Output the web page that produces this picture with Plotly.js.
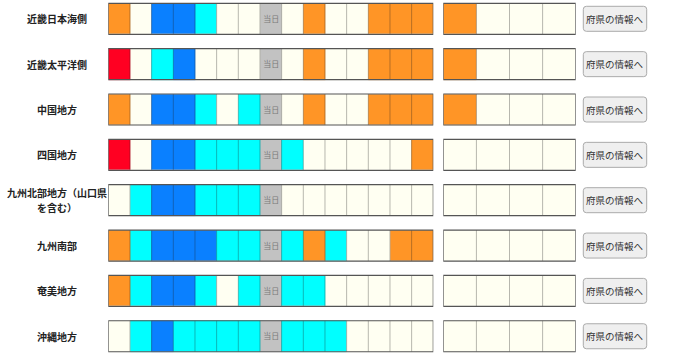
<!DOCTYPE html>
<html><head><meta charset="utf-8">
<script src="https://cdn.plot.ly/plotly-3.0.1.min.js"></script>
<style>html,body{margin:0;padding:0;background:#fff}#chart{width:680px;height:361px}</style>
</head><body><div id="chart"></div>
<script>
// Region names (rows)
const regions = ['近畿日本海側','近畿太平洋側','中国地方','四国地方','九州北部地方（山口県<br>を含む）','九州南部','奄美地方','沖縄地方'];
// Level codes: 0 none, 1 cyan, 2 blue, 3 orange, 4 red, 5 当日
const levelNames = ['なし','水色','青','橙','赤','当日'];
const levelColors = ['#FFFFF2','#00FFFF','#0A80FF','#FF9526','#FF0022','#C2C2C2'];
const todayLabel = '当日';
const buttonLabel = '府県の情報へ';
// Left strip: 15 cells per region
const leftLevels = [
  [3,0,2,2,1,0,0,5,0,3,0,0,3,3,3],
  [4,0,1,2,0,0,0,5,0,3,0,0,3,3,3],
  [3,0,2,2,1,0,1,5,0,3,0,0,3,3,3],
  [4,0,2,2,1,1,1,5,1,0,0,0,0,0,3],
  [0,1,2,2,1,1,1,5,0,0,0,0,0,0,0],
  [3,1,2,2,2,1,1,5,1,3,1,0,0,3,3],
  [3,1,2,2,1,0,1,5,1,1,0,0,0,0,0],
  [0,1,2,1,1,1,1,5,1,1,1,0,0,0,0]
];
// Right strip: 4 cells per region
const rightLevels = [
  [3,0,0,0],
  [3,0,0,0],
  [3,0,0,0],
  [0,0,0,0],
  [0,0,0,0],
  [0,0,0,0],
  [0,0,0,0],
  [0,0,0,0]
];

(function () {
const W = 680, H = 361;
const pitch = 45.35;
const firstCenter = 18.8;
const halfH = 15.5 / pitch;
const nL = leftLevels[0].length, nR = rightLevels[0].length;

const cs = [];
levelColors.forEach((c, i) => { cs.push([i / levelColors.length, c]); cs.push([(i + 1) / levelColors.length, c]); });

const rowIdx = regions.map((_, i) => i);
const leftText = leftLevels.map(r => r.map(v => v === 5 ? todayLabel : ''));

const common = {
  type: 'heatmap', colorscale: cs, zmin: -0.5, zmax: levelColors.length - 0.5,
  showscale: false, hoverinfo: 'skip', ygap: pitch - 31, xgap: 0, zsmooth: false
};
const traces = [
  Object.assign({}, common, {
    x: leftLevels[0].map((_, i) => i), y: rowIdx, z: leftLevels,
    text: leftText, texttemplate: '%{text}',
    textfont: {size: 8, color: '#7a7a7a', family: 'Noto Sans CJK JP'},
    xaxis: 'x', yaxis: 'y'
  }),
  Object.assign({}, common, {
    x: rightLevels[0].map((_, i) => i), y: rowIdx, z: rightLevels,
    xaxis: 'x2', yaxis: 'y'
  })
];

const shapes = [];
const annotations = [];
const innerLine = {color: 'rgba(30,30,30,0.32)', width: 1};
const outerLine = {color: '#555555', width: 1.2};
const labelFont = {size: 10, color: '#222', family: 'Noto Sans CJK JP', weight: 'bold'};
rowIdx.forEach(r => {
  [['x', nL], ['x2', nR]].forEach(([ax, n]) => {
    for (let k = 1; k < n; k++) {
      shapes.push({type: 'line', xref: ax, yref: 'y', x0: k - 0.5, x1: k - 0.5, y0: r - halfH, y1: r + halfH, line: innerLine, layer: 'above'});
    }
    shapes.push({type: 'rect', xref: ax, yref: 'y', x0: -0.5, x1: n - 0.5, y0: r - halfH, y1: r + halfH, line: outerLine, fillcolor: 'rgba(0,0,0,0)', layer: 'above'});
  });
  // button
  const bx0 = 583.3 / W, bx1 = 646.7 / W, bh = 12.5 / pitch, rx = 3 / W, ry = 3 / pitch;
  const y0 = r - bh, y1 = r + bh;
  const p = `M ${bx0 + rx} ${y0} L ${bx1 - rx} ${y0} Q ${bx1} ${y0} ${bx1} ${y0 + ry} L ${bx1} ${y1 - ry} Q ${bx1} ${y1} ${bx1 - rx} ${y1} L ${bx0 + rx} ${y1} Q ${bx0} ${y1} ${bx0} ${y1 - ry} L ${bx0} ${y0 + ry} Q ${bx0} ${y0} ${bx0 + rx} ${y0} Z`;
  shapes.push({type: 'path', xref: 'paper', yref: 'y', path: p, fillcolor: '#EFEFEF', line: {color: '#ABABAB', width: 1}, layer: 'above'});
  annotations.push({x: 615 / W, y: r, xref: 'paper', yref: 'y', text: buttonLabel, showarrow: false,
    xanchor: 'center', yanchor: 'middle', font: {size: 9.5, color: '#333', family: 'Noto Sans CJK JP'}});
  const lines = regions[r].split('<br>');
  const lineGap = 14.6 / pitch;
  lines.forEach((t, j) => {
    annotations.push({x: 56.5 / W, y: r + (j - (lines.length - 1) / 2) * lineGap, xref: 'paper', yref: 'y', text: t, showarrow: false,
      xanchor: 'center', yanchor: 'middle', align: 'center', font: labelFont});
  });
});

const yTop = -firstCenter / pitch;
const yBottom = yTop + H / pitch;
const hidden = {showgrid: false, zeroline: false, showticklabels: false, ticks: '', showline: false, fixedrange: true};
const layout = {
  width: W, height: H, margin: {l: 0, r: 0, t: 0, b: 0},
  paper_bgcolor: '#ffffff', plot_bgcolor: 'rgba(0,0,0,0)', showlegend: false,
  xaxis: Object.assign({}, hidden, {domain: [108.3 / W, 433.3 / W], range: [-0.5, nL - 0.5], anchor: 'y'}),
  xaxis2: Object.assign({}, hidden, {domain: [443.3 / W, 575.7 / W], range: [-0.5, nR - 0.5], anchor: 'y'}),
  yaxis: Object.assign({}, hidden, {domain: [0, 1], range: [yBottom, yTop]}),
  shapes: shapes, annotations: annotations
};
Plotly.newPlot('chart', traces, layout, {displayModeBar: false, staticPlot: true});
})();
</script></body></html>
